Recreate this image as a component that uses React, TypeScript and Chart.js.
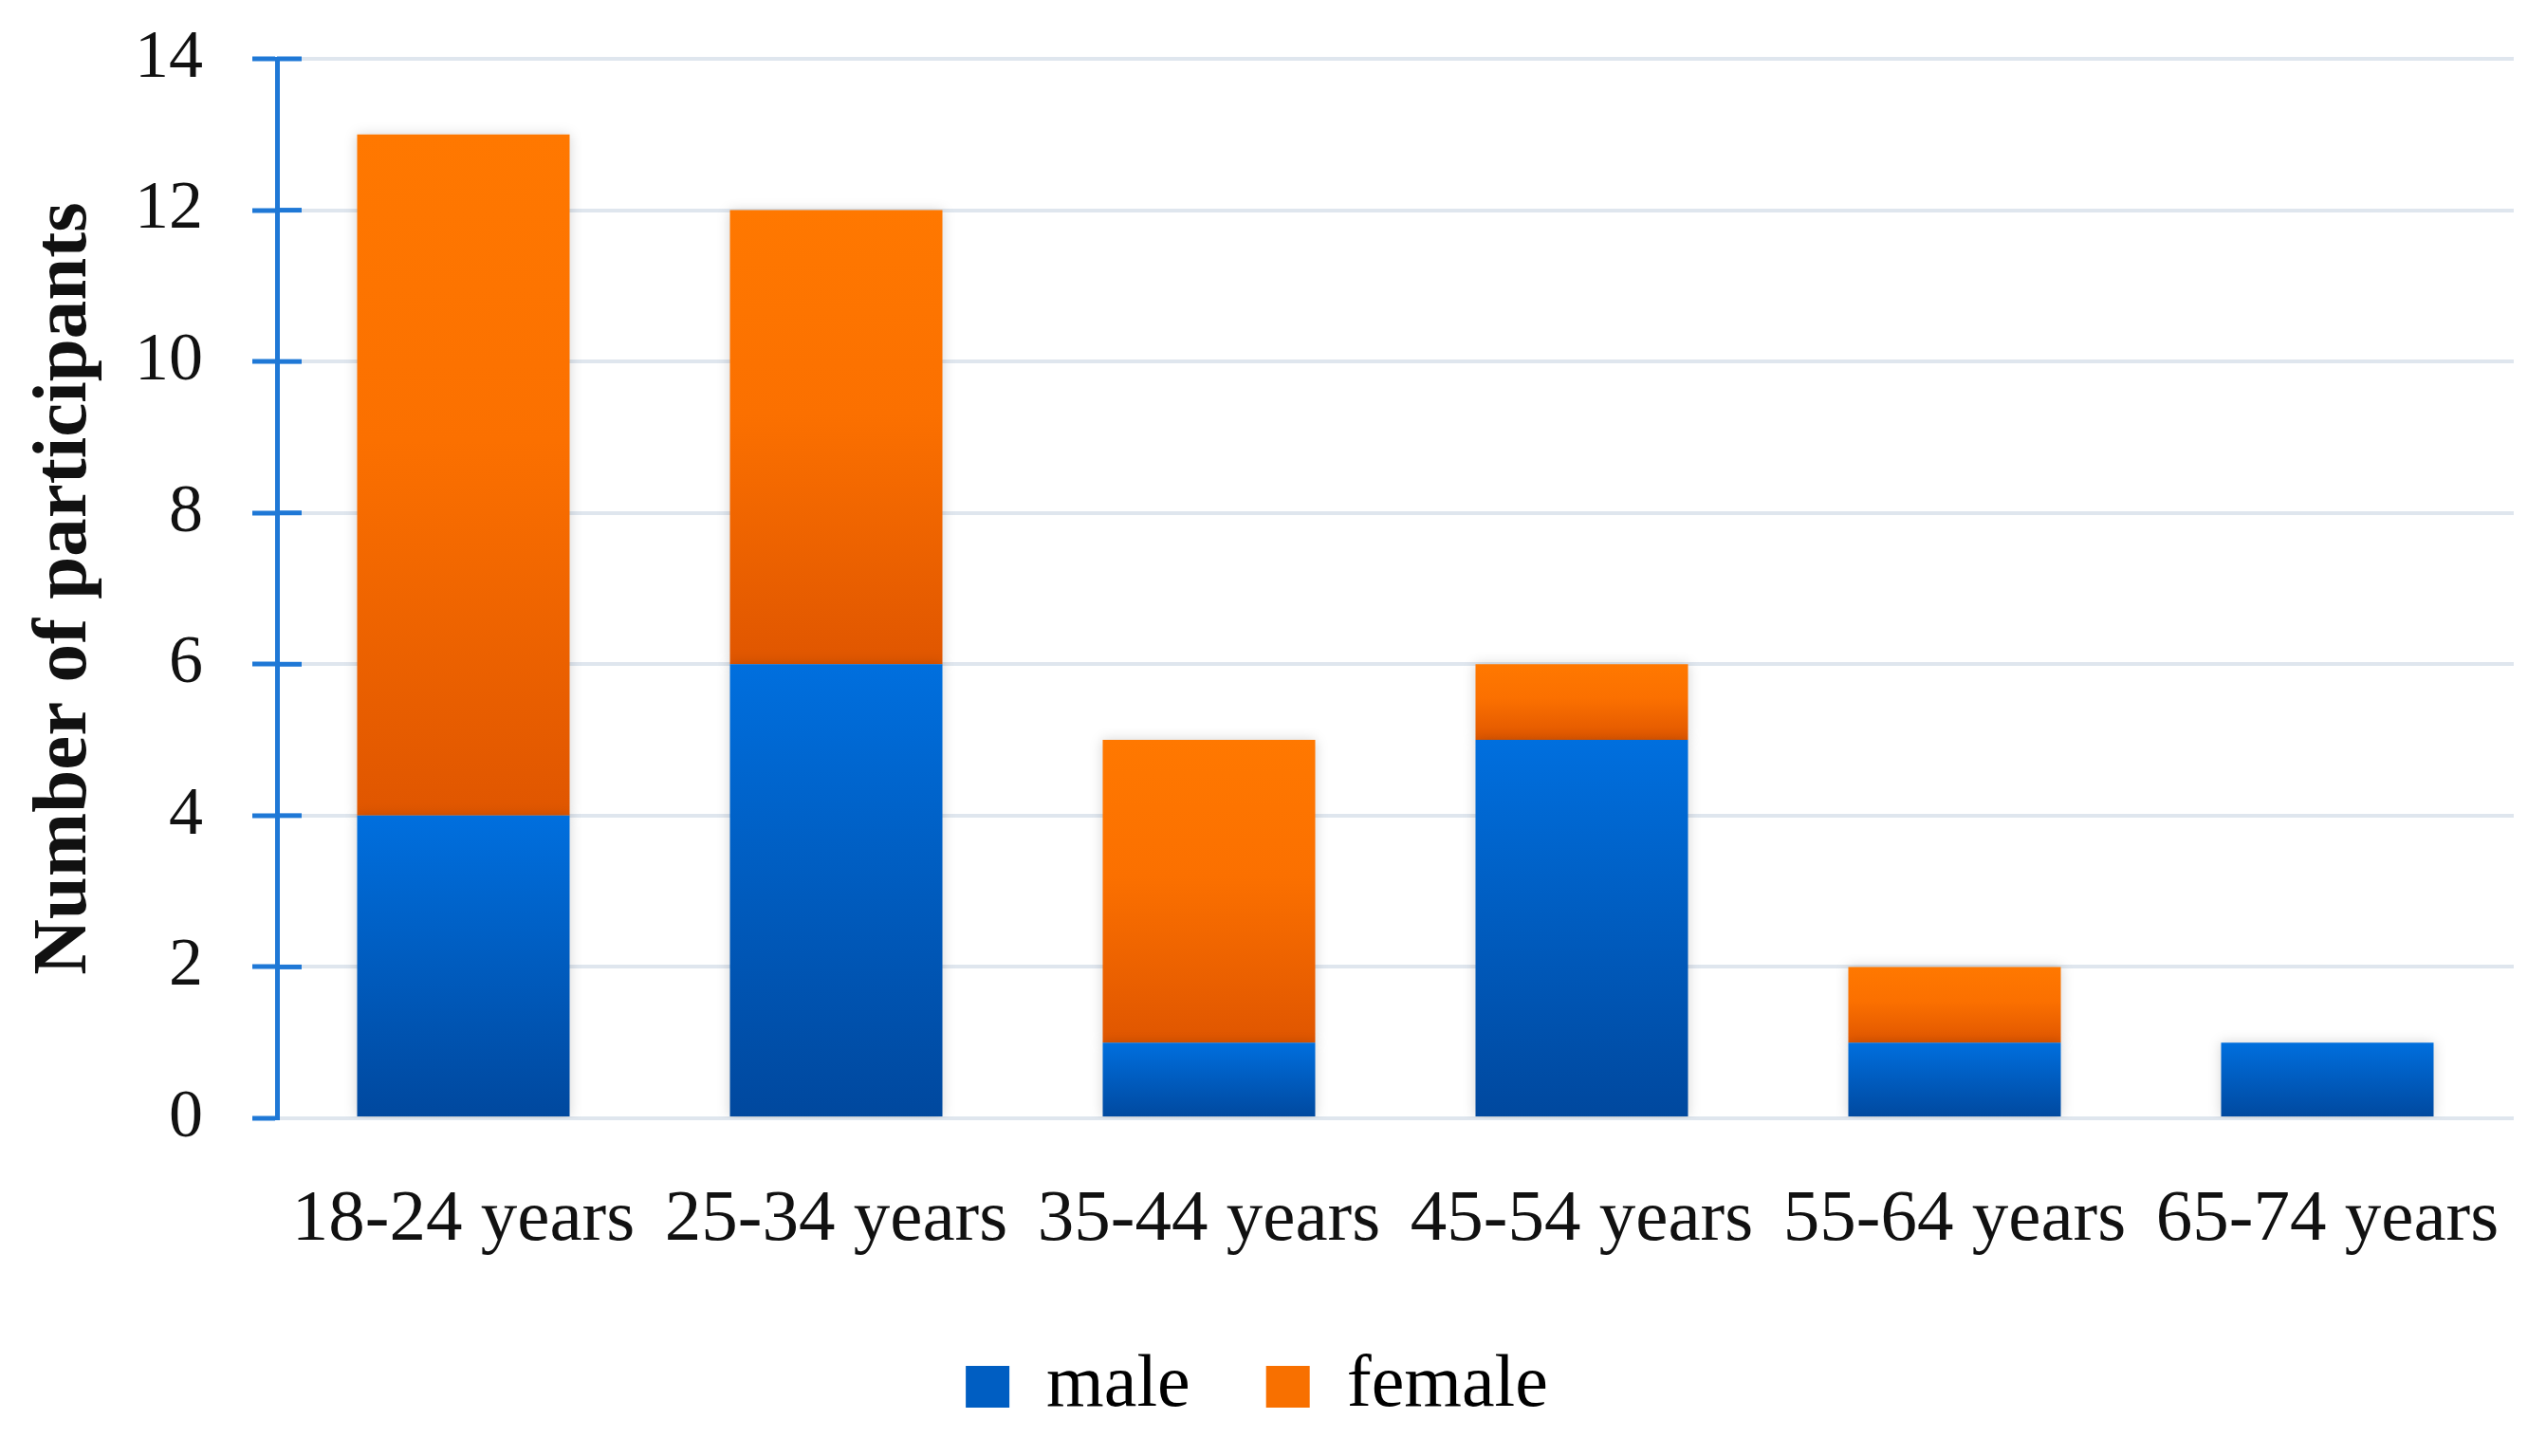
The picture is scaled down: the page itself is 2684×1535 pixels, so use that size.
import React, { useEffect, useRef } from "react";
import { Chart, registerables } from "chart.js";

Chart.register(...registerables);

const categories = ["18-24 years", "25-34 years", "35-44 years", "45-54 years", "55-64 years", "65-74 years"];
const maleValues = [4, 6, 1, 5, 1, 1];
const femaleValues = [9, 6, 4, 1, 1, 0];
const seriesNames = ["male", "female"];
const yTickMin = 0;
const yTickMax = 14;
const yTickStep = 2;

const W = 2684;
const H = 1535;
const AXIS_COLOR = "#1f78d6";
const GRID_COLOR = "#dfe6ee";
const FONT = "'Liberation Serif', 'Times New Roman', serif";

const MALE_STOPS: [number, string][] = [
  [0, "#006fde"],
  [1, "#00489e"],
];
const FEMALE_STOPS: [number, string][] = [
  [0, "#ff7800"],
  [0.45, "#fb7000"],
  [1, "#e05600"],
];

function segmentGradient(stops: [number, string][], fallback: string, values: number[][]) {
  return (ctx: any) => {
    const chart = ctx.chart;
    if (!chart.chartArea || ctx.type !== "data") return fallback;
    const yScale = chart.scales.y;
    const i = ctx.dataIndex;
    let base = 0;
    for (let d = 0; d < ctx.datasetIndex; d++) base += values[d][i];
    const top = base + values[ctx.datasetIndex][i];
    const y0 = yScale.getPixelForValue(top);
    const y1 = yScale.getPixelForValue(base);
    if (!isFinite(y0) || !isFinite(y1) || y0 === y1) return fallback;
    const g = chart.ctx.createLinearGradient(0, y0, 0, y1);
    stops.forEach(([o, c]) => g.addColorStop(o, c));
    return g;
  };
}

const innerTicks = {
  id: "innerTicks",
  afterDraw(chart: any) {
    const y = chart.scales.y;
    const ctx = chart.ctx;
    const x0 = chart.chartArea.left;
    ctx.save();
    ctx.strokeStyle = AXIS_COLOR;
    ctx.lineWidth = 5;
    y.ticks.forEach((t: any) => {
      if (t.value === 0) return;
      const py = y.getPixelForValue(t.value);
      ctx.beginPath();
      ctx.moveTo(x0, py);
      ctx.lineTo(x0 + 26, py);
      ctx.stroke();
    });
    ctx.restore();
  },
};

const barShadow = {
  id: "barShadow",
  beforeDatasetsDraw(chart: any) {
    const ctx = chart.ctx;
    ctx.save();
    ctx.shadowColor = "rgba(0,0,0,0.16)";
    ctx.shadowBlur = 12;
    ctx.shadowOffsetX = 0;
    ctx.shadowOffsetY = 0;
  },
  afterDatasetsDraw(chart: any) {
    chart.ctx.restore();
  },
};

export default function App() {
  const ref = useRef<HTMLCanvasElement | null>(null);

  useEffect(() => {
    if (!ref.current) return;
    const values = [maleValues, femaleValues];
    const chart = new Chart(ref.current, {
      type: "bar",
      data: {
        labels: categories,
        datasets: [
          {
            label: seriesNames[0],
            data: maleValues,
            backgroundColor: segmentGradient(MALE_STOPS, "#005fc4", values) as any,
            borderWidth: 0,
            categoryPercentage: 1,
            barPercentage: 0.57,
          },
          {
            label: seriesNames[1],
            data: femaleValues,
            backgroundColor: segmentGradient(FEMALE_STOPS, "#f76c00", values) as any,
            borderWidth: 0,
            categoryPercentage: 1,
            barPercentage: 0.57,
          },
        ],
      },
      options: {
        responsive: false,
        animation: false,
        devicePixelRatio: 1,
        layout: { padding: { top: 62, right: 34, bottom: 24, left: 0 } },
        plugins: {
          tooltip: { enabled: false },
          legend: {
            position: "bottom",
            labels: {
              boxWidth: 46,
              boxHeight: 44,
              padding: 80,
              color: "#111",
              font: { family: FONT, size: 78 },
              generateLabels: () => [
                { text: seriesNames[0], fillStyle: "#005ec2", strokeStyle: "#005ec2", lineWidth: 0, datasetIndex: 0, hidden: false },
                { text: seriesNames[1], fillStyle: "#f87000", strokeStyle: "#f87000", lineWidth: 0, datasetIndex: 1, hidden: false },
              ] as any,
            },
          },
        },
        scales: {
          x: {
            stacked: true,
            grid: { display: false, drawTicks: false },
            border: { display: false },
            ticks: { color: "#111", font: { family: FONT, size: 77 }, padding: 62, maxRotation: 0, autoSkip: false },
            afterFit: (s: any) => {
              s.height = 164;
              s.paddingLeft = 0;
              s.paddingRight = 0;
            },
          },
          y: {
            stacked: true,
            min: yTickMin,
            max: yTickMax,
            ticks: { stepSize: yTickStep, color: "#111", font: { family: FONT, size: 72 }, padding: 52 },
            grid: { color: GRID_COLOR, lineWidth: 4, tickColor: AXIS_COLOR, tickWidth: 5, tickLength: 26 },
            border: { color: AXIS_COLOR, width: 5 },
            title: {
              display: true,
              text: "Number of participants",
              color: "#111",
              font: { family: FONT, size: 81, weight: "bold" },
              padding: { top: 20, bottom: 0 },
            },
            afterFit: (s: any) => {
              s.width = 292;
              s.paddingTop = 0;
              s.paddingBottom = 0;
            },
          },
        },
      },
      plugins: [barShadow, innerTicks],
    });
    return () => chart.destroy();
  }, []);

  return (
    <div style={{ position: "fixed", left: 0, top: 0, width: W, height: H, background: "#fff" }}>
      <canvas ref={ref} width={W} height={H} style={{ width: W, height: H, display: "block" }} />
    </div>
  );
}
